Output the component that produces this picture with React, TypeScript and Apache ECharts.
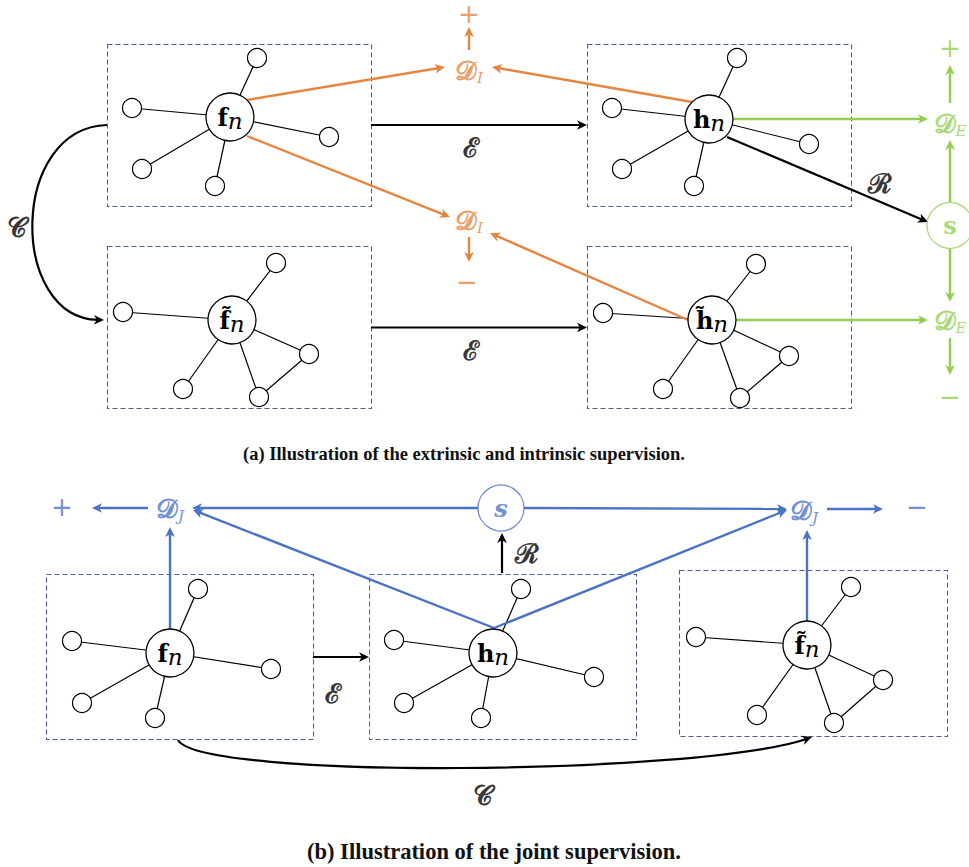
import React, { useEffect, useRef } from 'react';
import * as echarts from 'echarts';

const W = 969;
const H = 867;

// dashed frames: [x0, y0, x1, y1]
const frames: number[][] = [
  [107, 44, 371, 206], [107, 246, 371, 408], [587, 44, 851, 206], [587, 246, 851, 408],
  [46, 574, 313, 739], [369, 574, 636, 739], [679, 570, 947, 736],
];

// star graphs
const hubLabels = [
  '{b|f}{n|n}', '{b|f\u0303}{n|n}', '{b|h}{n|n}', '{b|h\u0303}{n|n}',
  '{b|f}{n|n}', '{b|h}{n|n}', '{b|f\u0303}{n|n}',
];
const hubPoints: number[][] = [
  [230, 117], [232, 320], [709, 119], [712, 320], [170, 653], [493, 653], [807, 645],
];
const leafPoints: number[][][] = [
  [[257, 58], [132, 108], [329, 137], [142, 169], [215, 186]],
  [[276, 263], [123, 312], [309, 354], [183, 389], [259, 397]],
  [[737, 58], [612, 108], [809, 144], [622, 169], [694, 186]],
  [[756, 264], [603, 313], [789, 356], [663, 389], [740, 398]],
  [[198, 589], [72, 641], [271, 669], [82, 703], [155, 718]],
  [[521, 589], [394, 640], [594, 677], [404, 703], [481, 718]],
  [[851, 587], [696, 637], [883, 680], [757, 715], [834, 723]],
];
const leafLinks: number[][][] = [[], [[2, 4]], [], [[2, 4]], [], [], [[2, 4]]];

// arrows [x1, y1, x2, y2]
const blackArrows: number[][] = [
  [371, 125, 587, 125], [371, 327.5, 587, 327.5], [727, 137, 928, 222],
  [313, 657, 369, 657], [502, 573, 502, 533],
];
const orangeArrows: number[][] = [
  [247, 100, 445, 67], [692, 102, 492, 67], [247, 136, 450, 217], [688, 320, 490, 233],
  [469, 50, 469, 27], [469, 237, 469, 262],
];
const greenArrows: number[][] = [
  [733, 119, 928, 119], [736, 320, 928, 320], [950, 202, 950, 140], [950, 103, 950, 65],
  [950, 249, 950, 302], [950, 338, 950, 375],
];
const blueArrows: number[][] = [
  [478, 508, 192, 508], [494, 628, 193, 510], [524, 508, 787, 509], [494, 628, 787, 510],
  [170, 629, 170, 527], [807, 621, 807, 530], [148, 508, 92, 508], [827, 509, 883, 509],
];

// curved arrows (cubic): [x0, y0, c1x, c1y, c2x, c2y, x3, y3]
const curveArrows: number[][] = [
  [107, 125, 9, 128, 9, 318, 104, 320],
  [178, 740, 200, 780, 700, 775, 812, 737],
];

// texts [x, y, text]
const blackTexts: [number, number, string][] = [
  [471, 147, '{cal|ℰ}'], [471, 350, '{cal|ℰ}'], [333, 693, '{cal|ℰ}'],
  [880, 183, '{cal|ℛ}'], [527, 553, '{cal|ℛ}'],
  [17, 227, '{cal|𝒞}'], [483, 795, '{cal|𝒞}'],
];
const orangeTexts: [number, number, string][] = [
  [469, 70, '{cal|𝒟}{sub|I}'], [469, 220, '{cal|𝒟}{sub|I}'],
  [469, 14, '{sign|+}'], [467, 282, '{sign|−}'],
];
const greenTexts: [number, number, string][] = [
  [950, 123, '{cal|𝒟}{sub|E}'], [950, 320, '{cal|𝒟}{sub|E}'],
  [950, 48, '{sign|+}'], [950, 397, '{sign|−}'],
];
const blueTexts: [number, number, string][] = [
  [170, 508, '{cal|𝒟}{sub|J}'], [804, 510, '{cal|𝒟}{sub|J}'],
  [62, 507, '{sign|+}'], [917, 507, '{sign|−}'],
];
const sNodes: [number, number, string][] = [
  [950, 225.5, 'green'], [501, 508, 'blue'],
];

const captionA = '(a) Illustration of the extrinsic and intrinsic supervision.';
const captionB = '(b) Illustration of the joint supervision.';

const ORANGE = '#E58540';
const GREEN = '#92CF50';
const BLUE = '#4B72C6';
const FRAME = '#4A5E9C';

function arrowRender(color: string, width: number) {
  return (_p: any, api: any) => {
    const a = api.coord([api.value(0), api.value(1)]);
    const b = api.coord([api.value(2), api.value(3)]);
    const dx = b[0] - a[0];
    const dy = b[1] - a[1];
    const len = Math.hypot(dx, dy) || 1;
    const ux = dx / len;
    const uy = dy / len;
    const hl = 10;
    const hw = 4.8;
    const bx = b[0] - ux * hl;
    const by = b[1] - uy * hl;
    const px = -uy;
    const py = ux;
    return {
      type: 'group',
      children: [
        {
          type: 'line',
          shape: { x1: a[0], y1: a[1], x2: b[0] - ux * hl * 0.6, y2: b[1] - uy * hl * 0.6 },
          style: { stroke: color, lineWidth: width },
        },
        {
          type: 'polygon',
          shape: {
            points: [
              [b[0], b[1]],
              [bx + px * hw, by + py * hw],
              [b[0] - ux * hl * 0.72, b[1] - uy * hl * 0.72],
              [bx - px * hw, by - py * hw],
            ],
          },
          style: { fill: color },
        },
      ],
    };
  };
}

function curveRender(_p: any, api: any) {
  const p0 = api.coord([api.value(0), api.value(1)]);
  const c1 = api.coord([api.value(2), api.value(3)]);
  const c2 = api.coord([api.value(4), api.value(5)]);
  const p3 = api.coord([api.value(6), api.value(7)]);
  const dx = p3[0] - c2[0];
  const dy = p3[1] - c2[1];
  const len = Math.hypot(dx, dy) || 1;
  const ux = dx / len;
  const uy = dy / len;
  const hl = 10;
  const hw = 4.8;
  const bx = p3[0] - ux * hl;
  const by = p3[1] - uy * hl;
  return {
    type: 'group',
    children: [
      {
        type: 'bezierCurve',
        shape: {
          x1: p0[0], y1: p0[1], cpx1: c1[0], cpy1: c1[1], cpx2: c2[0], cpy2: c2[1],
          x2: p3[0] - ux * 6, y2: p3[1] - uy * 6,
        },
        style: { stroke: '#000', lineWidth: 2.2, fill: 'none' },
      },
      {
        type: 'polygon',
        shape: {
          points: [
            [p3[0], p3[1]],
            [bx - uy * hw, by + ux * hw],
            [p3[0] - ux * hl * 0.72, p3[1] - uy * hl * 0.72],
            [bx + uy * hw, by - ux * hw],
          ],
        },
        style: { fill: '#000' },
      },
    ],
  };
}

function textRich(color: string) {
  return {
    cal: { fontFamily: 'DejaVu Serif', fontWeight: 'bold', fontSize: 27, color, lineHeight: 28 },
    sub: { fontFamily: 'DejaVu Serif', fontStyle: 'italic', fontSize: 15, color, padding: [16, 0, 0, 0] },
    sign: { fontFamily: 'DejaVu Sans', fontSize: 26, color, lineHeight: 20 },
  };
}

function textSeries(texts: [number, number, string][], color: string) {
  return {
    type: 'scatter',
    silent: true,
    z: 20,
    symbolSize: 1,
    itemStyle: { color: 'rgba(0,0,0,0)' },
    data: texts.map(([x, y, t]) => ({ name: t, value: [x, y] })),
    label: {
      show: true,
      position: 'inside',
      formatter: (p: any) => p.name,
      rich: textRich(color),
    },
  };
}

export default function App() {
  const ref = useRef<HTMLDivElement>(null);
  useEffect(() => {
    if (!ref.current) return;
    const chart = echarts.init(ref.current, undefined, { renderer: 'svg' });

    const edgeData: any[] = [];
    hubPoints.forEach((h, gi) => {
      leafPoints[gi].forEach((l) => edgeData.push({ coords: [h, l] }));
      leafLinks[gi].forEach(([i, j]) => edgeData.push({ coords: [leafPoints[gi][i], leafPoints[gi][j]] }));
    });
    const leafData: number[][] = [];
    leafPoints.forEach((ls) => ls.forEach((l) => leafData.push(l)));

    const option: any = {
      animation: false,
      backgroundColor: '#fff',
      title: [
        {
          text: captionA, left: 243, top: 444, padding: 0,
          textStyle: { fontFamily: 'Liberation Serif', fontWeight: 'bold', fontSize: 18.5, color: '#111' },
        },
        {
          text: captionB, left: 307, top: 840, padding: 0,
          textStyle: { fontFamily: 'Liberation Serif', fontWeight: 'bold', fontSize: 22.5, color: '#111' },
        },
      ],
      grid: { left: 0, right: 0, top: 0, bottom: 0 },
      xAxis: { type: 'value', min: 0, max: W, show: false },
      yAxis: { type: 'value', min: 0, max: H, inverse: true, show: false },
      series: [
        {
          type: 'custom',
          silent: true,
          z: 1,
          data: frames,
          encode: { x: [0, 2], y: [1, 3] },
          renderItem: (_p: any, api: any) => {
            const a = api.coord([api.value(0), api.value(1)]);
            const b = api.coord([api.value(2), api.value(3)]);
            return {
              type: 'rect',
              shape: { x: a[0] + 0.5, y: a[1] + 0.5, width: b[0] - a[0], height: b[1] - a[1] },
              style: { fill: 'none', stroke: FRAME, lineWidth: 1.1, lineDash: [5, 3] },
            };
          },
        },
        {
          type: 'lines',
          coordinateSystem: 'cartesian2d',
          silent: true,
          z: 2,
          data: edgeData,
          lineStyle: { color: '#000', width: 1.2, opacity: 1 },
        },
        {
          type: 'custom', silent: true, z: 3, data: blackArrows,
          encode: { x: [0, 2], y: [1, 3] }, renderItem: arrowRender('#000', 2.2),
        },
        {
          type: 'custom', silent: true, z: 3, data: orangeArrows,
          encode: { x: [0, 2], y: [1, 3] }, renderItem: arrowRender(ORANGE, 2.4),
        },
        {
          type: 'custom', silent: true, z: 3, data: greenArrows,
          encode: { x: [0, 2], y: [1, 3] }, renderItem: arrowRender(GREEN, 2.4),
        },
        {
          type: 'custom', silent: true, z: 3, data: blueArrows,
          encode: { x: [0, 2], y: [1, 3] }, renderItem: arrowRender(BLUE, 2.4),
        },
        {
          type: 'custom', silent: true, z: 3, data: curveArrows,
          encode: { x: [0, 6], y: [1, 7] }, renderItem: curveRender,
        },
        {
          type: 'scatter',
          silent: true,
          z: 10,
          symbolSize: 19,
          itemStyle: { color: '#fff', borderColor: '#000', borderWidth: 1.2, opacity: 1 },
          data: leafData,
        },
        {
          type: 'scatter',
          silent: true,
          z: 10,
          symbolSize: 48,
          itemStyle: { color: '#fff', borderColor: '#000', borderWidth: 1.3, opacity: 1 },
          data: hubPoints.map((p, i) => ({ name: hubLabels[i], value: p })),
          label: {
            show: true,
            position: 'inside',
            formatter: (p: any) => p.name,
            rich: {
              b: { fontFamily: 'DejaVu Serif', fontWeight: 'bold', fontSize: 24, color: '#000' },
              n: { fontFamily: 'DejaVu Serif', fontStyle: 'italic', fontSize: 23, color: '#000', padding: [8, 0, 0, 0] },
            },
          },
        },
        {
          type: 'scatter',
          silent: true,
          z: 10,
          symbolSize: 46,
          data: sNodes.map(([x, y, c]) => ({
            name: 's',
            value: [x, y],
            itemStyle: { color: '#fff', borderColor: c === 'green' ? GREEN : BLUE, borderWidth: 1.3 },
            label: {
              color: c === 'green' ? GREEN : BLUE,
              fontStyle: c === 'green' ? 'normal' : 'italic',
            },
          })),
          label: {
            show: true,
            position: 'inside',
            formatter: 's',
            fontFamily: 'DejaVu Serif',
            fontWeight: 'bold',
            fontSize: 24,
          },
        },
        textSeries(blackTexts, '#000'),
        textSeries(orangeTexts, ORANGE),
        textSeries(greenTexts, GREEN),
        textSeries(blueTexts, BLUE),
      ],
    };
    chart.setOption(option);
    return () => chart.dispose();
  }, []);
  return (
    <div
      ref={ref}
      style={{ position: 'fixed', left: 0, top: 0, width: W, height: H, background: '#fff' }}
    />
  );
}
